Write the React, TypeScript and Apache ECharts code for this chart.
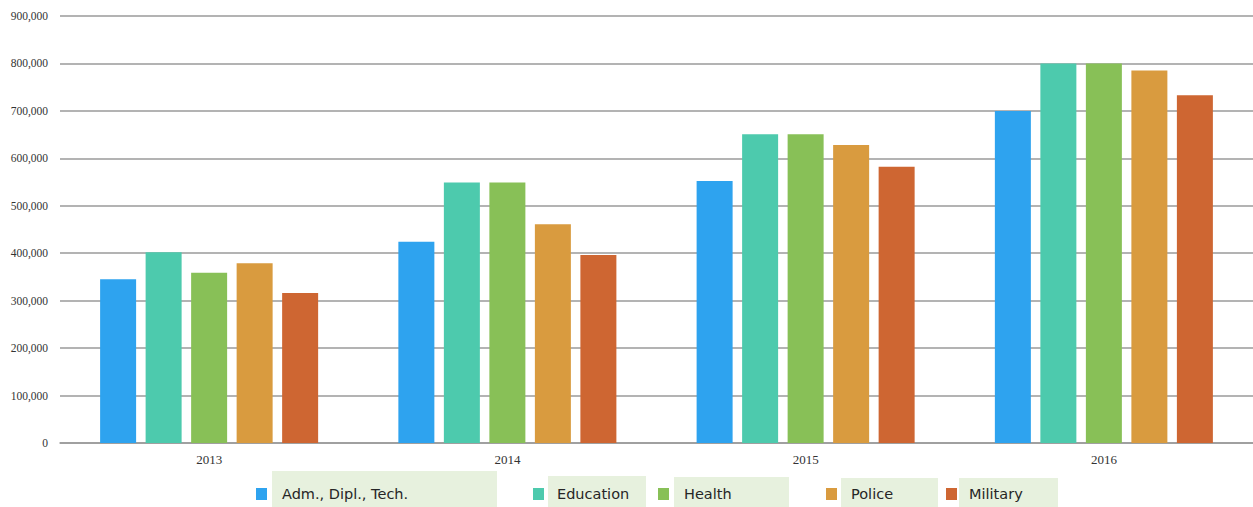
import React, { useEffect, useRef } from "react";
import * as echarts from "echarts";

const years = ["2013", "2014", "2015", "2016"];
const seriesNames = ["Adm., Dipl., Tech.", "Education", "Health", "Police", "Military"];
const admValues = [345000, 424000, 552000, 700000];
const educationValues = [402000, 549000, 651000, 800000];
const healthValues = [359000, 549000, 651000, 800000];
const policeValues = [379000, 461000, 628000, 785000];
const militaryValues = [316000, 396000, 582000, 733000];
const seriesColors = ["#2EA3EF", "#4DCAAD", "#88C057", "#D99B3F", "#CE6632"];

// legend layout: square x, box [x, y, w, h], text x
const legendLayout = [
  { sq: 256, box: [272, 471, 225, 36], tx: 282 },
  { sq: 533, box: [548, 476, 98, 31], tx: 557 },
  { sq: 658, box: [674, 477, 115, 30], tx: 684 },
  { sq: 826, box: [841, 478, 97, 29], tx: 851 },
  { sq: 946, box: [959, 478, 99, 29], tx: 969 },
];

export default function App() {
  const ref = useRef<HTMLDivElement>(null);

  useEffect(() => {
    if (!ref.current) return;
    const chart = echarts.init(ref.current, null, { renderer: "svg" });
    const values = [admValues, educationValues, healthValues, policeValues, militaryValues];

    const graphic: any[] = [];
    legendLayout.forEach((l, i) => {
      graphic.push({
        type: "rect",
        shape: { x: l.box[0], y: l.box[1], width: l.box[2], height: l.box[3] },
        style: { fill: "#E7F1DE" },
        z: 1,
      });
      graphic.push({
        type: "rect",
        shape: { x: l.sq, y: 488, width: 11, height: 12 },
        style: { fill: seriesColors[i] },
        z: 2,
      });
      graphic.push({
        type: "text",
        x: l.tx,
        y: 494,
        style: {
          text: seriesNames[i],
          fill: "#262626",
          font: '14.5px "DejaVu Sans"',
          textVerticalAlign: "middle",
        },
        z: 3,
      });
    });

    chart.setOption({
      animation: false,
      backgroundColor: "#ffffff",
      grid: { left: 60, top: 16, right: 0, height: 427 },
      xAxis: {
        type: "category",
        data: years,
        axisTick: { show: false },
        axisLine: { lineStyle: { color: "#9a9a9a", width: 1.5 } },
        axisLabel: {
          color: "#333",
          fontFamily: '"Liberation Serif", serif',
          fontSize: 13,
          margin: 10,
        },
      },
      yAxis: {
        type: "value",
        min: 0,
        max: 900000,
        interval: 100000,
        axisLine: { show: false },
        axisTick: { show: false },
        splitLine: { lineStyle: { color: "#9a9a9a", width: 1.5 } },
        axisLabel: {
          color: "#333",
          fontFamily: '"Liberation Serif", serif',
          fontSize: 11.5,
          margin: 12,
          formatter: (v: number) => v.toLocaleString("en-US"),
        },
      },
      series: seriesNames.map((name, i) => ({
        name,
        type: "bar",
        data: values[i],
        barWidth: 36,
        barGap: "26.4%",
        itemStyle: { color: seriesColors[i] },
      })),
      graphic,
    });

    return () => chart.dispose();
  }, []);

  return (
    <div
      ref={ref}
      style={{ position: "absolute", left: 0, top: 0, width: 1253, height: 507 }}
    />
  );
}
